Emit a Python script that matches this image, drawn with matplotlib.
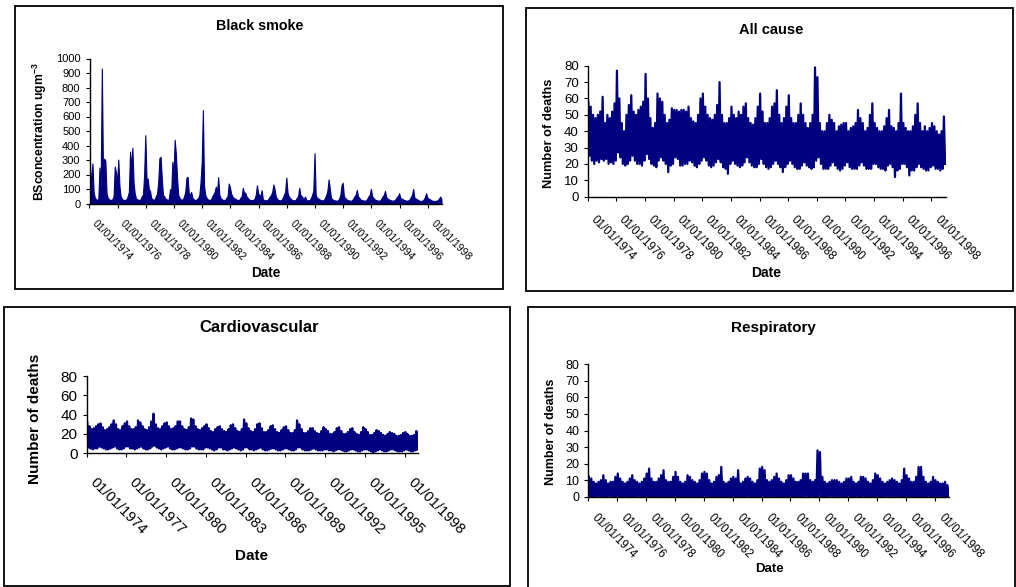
""" Four daily time series panels: black smoke and deaths, 1974-1998. """

import numpy as np
import matplotlib.pyplot as plt
from matplotlib.patches import Rectangle
from matplotlib.transforms import ScaledTranslation

plt.rcParams['font.family'] = ['Liberation Sans', 'DejaVu Sans']
plt.rcParams['mathtext.fontset'] = 'custom'
plt.rcParams['mathtext.rm'] = 'Liberation Sans'
plt.rcParams['mathtext.bf'] = 'Liberation Sans:bold'

NAVY = '#000080'

# black smoke, monthly peak concentration (ugm-3), Jan..Dec per row
bs_high = [
    140, 200, 276, 80, 40, 30, 25, 30, 248, 120, 931, 200,   # 1974
    310, 294, 70, 40, 30, 25, 25, 30, 50, 255, 214, 150,     # 1975
    303, 120, 50, 35, 25, 25, 25, 30, 50, 80, 358, 250,      # 1976
    384, 145, 70, 35, 30, 25, 25, 30, 50, 60, 200, 471,      # 1977
    172, 172, 100, 87, 40, 30, 25, 30, 50, 70, 150, 313,     # 1978
    322, 179, 60, 50, 35, 30, 25, 30, 99, 70, 287, 200,      # 1979
    439, 345, 179, 60, 40, 30, 25, 30, 50, 80, 179, 184,     # 1980
    70, 60, 80, 40, 30, 25, 25, 30, 40, 60, 150, 283,        # 1981
    644, 120, 60, 40, 30, 25, 25, 30, 50, 64, 80, 117,       # 1982
    70, 182, 60, 40, 30, 25, 25, 25, 40, 50, 138, 113,       # 1983
    70, 50, 40, 35, 30, 25, 25, 25, 40, 50, 108, 70,         # 1984
    76, 50, 40, 30, 25, 25, 22, 25, 35, 60, 126, 70,         # 1985
    60, 50, 92, 30, 25, 22, 22, 25, 35, 50, 60, 80,          # 1986
    131, 99, 50, 35, 25, 22, 22, 25, 40, 60, 80, 179,        # 1987
    76, 50, 40, 30, 25, 22, 22, 25, 40, 50, 108, 60,         # 1988
    50, 40, 35, 48, 25, 22, 22, 25, 40, 60, 90, 347,         # 1989
    60, 40, 35, 30, 25, 22, 22, 25, 40, 60, 90, 166,         # 1990
    103, 40, 30, 25, 22, 20, 20, 22, 35, 60, 126, 143,       # 1991
    50, 40, 30, 25, 22, 20, 20, 22, 35, 50, 60, 94,          # 1992
    50, 40, 30, 25, 22, 20, 20, 22, 35, 50, 60, 101,         # 1993
    50, 40, 30, 25, 22, 20, 20, 22, 35, 50, 60, 87,          # 1994
    45, 35, 30, 25, 22, 20, 20, 22, 30, 45, 50, 71,          # 1995
    40, 35, 30, 25, 22, 20, 20, 22, 30, 45, 60, 101,         # 1996
    40, 35, 30, 25, 20, 18, 18, 20, 30, 45, 71, 40,          # 1997
    35, 30, 25, 20, 18, 18, 18, 20, 25, 35, 48, 30,          # 1998
]

# deaths: highest and lowest daily count in each two-month block, six per year
ac_high = [
    58, 55, 50, 48, 50, 52,  61, 45, 50, 48, 52, 57,  77, 60, 45, 40, 50, 56,
    62, 52, 50, 53, 55, 58,  75, 60, 48, 42, 45, 63,  60, 58, 50, 45, 47, 54,
    53, 53, 52, 53, 53, 52,  55, 48, 46, 45, 50, 60,  63, 55, 50, 48, 47, 50,
    56, 70, 50, 45, 45, 48,  55, 50, 48, 52, 50, 55,  57, 48, 45, 44, 48, 55,
    63, 52, 45, 45, 48, 55,  57, 65, 50, 45, 48, 55,  62, 48, 45, 45, 50, 57,
    50, 45, 42, 45, 50, 79,  73, 45, 40, 40, 45, 50,  47, 45, 40, 43, 44, 45,
    45, 40, 42, 43, 45, 53,  48, 45, 40, 42, 50, 57,  45, 42, 40, 40, 43, 48,
    53, 43, 42, 40, 45, 63,  45, 42, 40, 40, 43, 50,  57, 45, 40, 43, 40, 42,
    45, 43, 40, 38, 40, 49,
]
ac_low = [
    25, 22, 20, 22, 21, 23,  22, 23, 20, 21, 20, 22,  27, 24, 20, 19, 20, 22,
    25, 22, 20, 20, 19, 22,  26, 23, 20, 19, 18, 22,  24, 22, 20, 15, 19, 20,
    24, 23, 19, 19, 20, 20,  22, 21, 19, 18, 20, 22,  24, 22, 19, 18, 19, 21,
    23, 21, 18, 17, 14, 20,  22, 20, 19, 18, 19, 21,  24, 21, 19, 18, 18, 20,
    23, 20, 18, 17, 18, 20,  22, 20, 18, 15, 18, 20,  22, 20, 18, 17, 17, 19,
    21, 19, 18, 17, 18, 22,  24, 20, 17, 17, 17, 19,  21, 19, 17, 16, 17, 19,
    21, 18, 17, 17, 17, 19,  21, 19, 17, 17, 17, 20,  20, 18, 17, 17, 16, 19,
    20, 18, 12, 16, 17, 20,  20, 18, 13, 16, 16, 18,  20, 18, 17, 16, 16, 18,
    19, 17, 17, 16, 17, 20,
]
cv_high = [
    32, 28, 25, 26, 28, 30,  31, 27, 24, 25, 27, 30,  34, 30, 25, 24, 28, 31,
    33, 28, 25, 25, 27, 34,  32, 28, 25, 24, 27, 33,  41, 30, 26, 25, 28, 31,
    32, 28, 25, 26, 28, 33,  33, 28, 25, 24, 27, 36,  35, 28, 25, 24, 26, 28,
    30, 26, 23, 22, 25, 27,  28, 25, 23, 22, 25, 29,  30, 26, 23, 22, 25, 35,
    31, 26, 23, 22, 25, 30,  31, 26, 22, 22, 24, 28,  29, 25, 22, 21, 24, 27,
    28, 24, 21, 21, 24, 34,  30, 25, 21, 21, 23, 26,  26, 23, 21, 20, 23, 27,
    25, 23, 20, 20, 22, 26,  27, 23, 20, 20, 22, 25,  26, 22, 20, 19, 22, 27,
    25, 22, 19, 19, 21, 24,  23, 21, 19, 18, 20, 22,  21, 20, 18, 18, 19, 21,
    22, 20, 18, 18, 19, 23,
]
cv_low = [
    6, 5, 4, 5, 5, 7,  6, 5, 4, 4, 5, 6,  7, 5, 4, 4, 5, 7,  7, 5, 5, 4, 5, 6,
    7, 5, 4, 4, 5, 7,  8, 6, 5, 4, 5, 6,  7, 5, 4, 4, 5, 6,  6, 5, 4, 4, 5, 7,
    7, 5, 4, 4, 4, 6,  6, 5, 4, 3, 4, 6,  6, 4, 4, 3, 4, 5,  6, 5, 4, 3, 4, 6,
    6, 4, 4, 3, 4, 5,  6, 4, 3, 3, 4, 5,  5, 4, 3, 3, 4, 5,  5, 4, 3, 3, 4, 6,
    6, 4, 3, 3, 3, 4,  5, 4, 3, 3, 3, 4,  4, 3, 3, 2, 3, 4,  4, 3, 2, 2, 3, 4,
    4, 3, 2, 2, 3, 4,  4, 3, 2, 1, 2, 3,  4, 3, 2, 2, 3, 4,  4, 3, 2, 2, 2, 3,
    4, 3, 2, 2, 3, 4,
]
resp_high = [
    12, 11, 9, 8, 9, 10,  13, 10, 8, 9, 9, 12,  14, 11, 9, 8, 9, 11,
    13, 10, 9, 8, 9, 11,  14, 17, 11, 9, 9, 11,  13, 16, 10, 9, 9, 12,
    15, 12, 9, 8, 9, 13,  12, 10, 9, 8, 10, 14,  15, 14, 10, 8, 9, 12,
    13, 18, 9, 8, 9, 11,  12, 11, 16, 8, 9, 11,  12, 11, 9, 8, 10, 17,
    18, 16, 10, 9, 10, 12,  14, 11, 9, 8, 10, 13,  13, 11, 9, 9, 10, 14,
    14, 14, 10, 9, 10, 28,  27, 12, 9, 8, 9, 10,  10, 10, 9, 8, 9, 11,
    11, 12, 9, 8, 9, 12,  12, 11, 9, 8, 10, 14,  13, 11, 9, 8, 9, 10,
    11, 10, 9, 8, 10, 17,  13, 11, 9, 9, 12, 18,  18, 12, 9, 8, 9, 12,
    10, 9, 8, 8, 9, 7,
]
resp_low = [0] * len(resp_high)  # daily minimum is zero throughout

ticks_2y = [1974, 1976, 1978, 1980, 1982, 1984, 1986, 1988, 1990, 1992, 1994, 1996, 1998]
ticks_3y = [1974, 1977, 1980, 1983, 1986, 1989, 1992, 1995, 1998]
labels_2y = ['01/01/%d' % y for y in ticks_2y]
labels_3y = ['01/01/%d' % y for y in ticks_3y]

x_month = 1974 + (np.arange(len(bs_high)) + 0.5) / 12


def zigzag(high, low):
    # high point early in each block, low point late in it, so the line swings like daily data
    k = np.arange(len(high)) / 6
    x = 1974 + np.ravel(np.column_stack([k + 1 / 24, k + 3 / 24]))
    y = np.ravel(np.column_stack([high, low]))
    return x, y


W, H = 1016, 587
fig = plt.figure(figsize=(W / 100, H / 100), dpi=100)


def axes_px(l, t, r, b):
    return fig.add_axes([l / W, 1 - b / H, (r - l) / W, (b - t) / H])


def text_px(x, y, s, **kw):
    fig.text(x / W, 1 - y / H, s, ha='center', va='center', **kw)


def box_px(l, t, r, b):
    fig.add_artist(Rectangle((l / W, 1 - b / H), (r - l) / W, (b - t) / H, transform=fig.transFigure,
                             fill=False, ec='black', lw=1.3))


def style(ax, yticks, ticks, labels, fs, xfs, pad, dx):
    ax.set_xlim(1974, 1999)
    ax.set_ylim(yticks[0], yticks[-1])
    ax.set_yticks(yticks)
    ax.set_xticks(ticks)
    ax.set_xticklabels(labels, rotation=-45, ha='left', va='top', rotation_mode='anchor', fontsize=xfs)
    for s in ['top', 'right']:
        ax.spines[s].set_visible(False)
    for s in ['left', 'bottom']:
        ax.spines[s].set_linewidth(1.0)
    ax.tick_params(direction='out', length=3, width=0.8, colors='black')
    ax.tick_params(axis='y', labelsize=fs, pad=3.5)
    ax.tick_params(axis='x', pad=pad)
    for lab in ax.get_xticklabels():  # shift the slanted labels a bit right of the tick
        lab.set_transform(lab.get_transform() + ScaledTranslation(dx / 100, 0, fig.dpi_scale_trans))
    ax.patch.set_visible(False)


# Black smoke
box_px(15, 6, 503, 289)
ax1 = axes_px(89.5, 58.5, 442, 203.5)
ax1.fill_between(x_month, 0, bs_high, color=NAVY, lw=0.8)
style(ax1, list(range(0, 1001, 100)), ticks_2y, labels_2y, 8, 7.5, 8, 8)
text_px(260, 25.5, 'Black smoke', fontsize=10.3, fontweight='bold')
text_px(266, 272.5, 'Date', fontsize=9.8, fontweight='bold')
text_px(40, 132, r'BSconcentration ugm$^{\mathbf{-3}}$', fontsize=8.8, fontweight='bold', rotation=90)

# All cause
box_px(526, 8, 1013, 291)
ax2 = axes_px(587.7, 65.7, 945.7, 196.7)
x, y = zigzag(ac_high, ac_low)
ax2.plot(x, y, color=NAVY, lw=1.6)
style(ax2, list(range(0, 81, 10)), ticks_2y, labels_2y, 9.5, 8.3, 9, 9)
text_px(771, 29.5, 'All cause', fontsize=10.5, fontweight='bold')
text_px(766, 272.5, 'Date', fontsize=10, fontweight='bold')
text_px(548.5, 133, 'Number of deaths', fontsize=9.3, fontweight='bold', rotation=90)

# Cardiovascular
box_px(4, 307, 510, 585.5)
ax3 = axes_px(86.7, 376, 418, 453.3)
x, y = zigzag(cv_high, cv_low)
ax3.plot(x, y, color=NAVY, lw=1.6)
style(ax3, list(range(0, 81, 20)), ticks_3y, labels_3y, 11, 10.5, 13, 10)
text_px(259, 327, 'Cardiovascular', fontsize=12, fontweight='bold')
text_px(251, 556.5, 'Date', fontsize=11, fontweight='bold')
text_px(35, 419, 'Number of deaths', fontsize=11, fontweight='bold', rotation=90)

# Respiratory
box_px(528, 307, 1015, 588)
ax4 = axes_px(588.3, 364.3, 949.3, 496.7)
x, y = zigzag(resp_high, resp_low)
ax4.plot(x, y, color=NAVY, lw=1.6)
style(ax4, list(range(0, 81, 10)), ticks_2y, labels_2y, 9, 8.3, 8, 10)
text_px(773, 328, 'Respiratory', fontsize=11, fontweight='bold')
text_px(769, 569.5, 'Date', fontsize=9.5, fontweight='bold')
text_px(551, 432, 'Number of deaths', fontsize=9, fontweight='bold', rotation=90)

plt.savefig('out.png', dpi=100)
